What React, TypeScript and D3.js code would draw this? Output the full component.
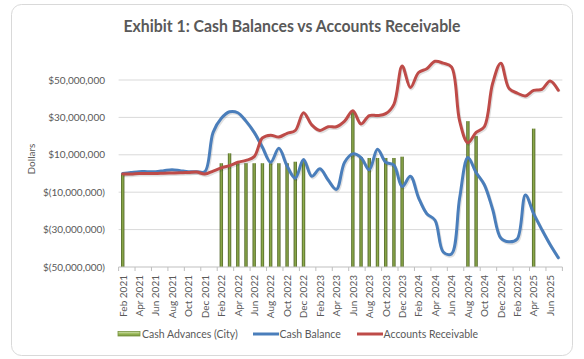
import React from "react";
import * as d3 from "d3";

// monthly categories, Feb 2021 .. Jul 2025
const months = [
  "Feb 2021", "Mar 2021", "Apr 2021", "May 2021", "Jun 2021", "Jul 2021", "Aug 2021", "Sep 2021", "Oct 2021", "Nov 2021", "Dec 2021",
  "Jan 2022", "Feb 2022", "Mar 2022", "Apr 2022", "May 2022", "Jun 2022", "Jul 2022", "Aug 2022", "Sep 2022", "Oct 2022", "Nov 2022", "Dec 2022",
  "Jan 2023", "Feb 2023", "Mar 2023", "Apr 2023", "May 2023", "Jun 2023", "Jul 2023", "Aug 2023", "Sep 2023", "Oct 2023", "Nov 2023", "Dec 2023",
  "Jan 2024", "Feb 2024", "Mar 2024", "Apr 2024", "May 2024", "Jun 2024", "Jul 2024", "Aug 2024", "Sep 2024", "Oct 2024", "Nov 2024", "Dec 2024",
  "Jan 2025", "Feb 2025", "Mar 2025", "Apr 2025", "May 2025", "Jun 2025", "Jul 2025",
];

// values in millions of dollars (null = no advance that month)
const cashAdvances = [
  0, null, null, null, null, null, null, null, null, null, null,
  null, 5.5, 10.8, 5.5, 5.5, 5.5, 5.5, 5.5, 5.5, 5.5, 6.3, 7.2,
  null, null, null, null, null, 33.5, 8.8, 8.3, 8.3, 8.3, 8.3, 9,
  null, null, null, null, null, null, null, 28, 20, null, null, null,
  null, null, null, 24, null, null, null,
];

const cashBalance = [
  0, 0.5, 1, 1, 1, 1.5, 2, 1.5, 1, 1, 1,
  22, 29.5, 33, 32.5, 28, 22, 14, 6, 13.5, 4, -2.5, 7.5,
  -1.5, 2.5, -3.5, -8.5, 6, 10.5, 8.5, 2, 13, 6, 4.5, -7,
  -1.5, -13, -21.5, -25, -42, -43, -13, 8.5, 0.5, -6, -19, -34.5,
  -36.5, -35, -11.5, -21.5, -30, -38, -45,
];

const accountsReceivable = [
  -0.3, -0.3, 0, 0, 0, 0.2, 0.3, 0.4, 0.6, 0.8, -0.3,
  1.3, 3, 4.2, 6, 7, 9, 19, 20.5, 19.5, 21.5, 23, 32.5,
  26, 23, 25, 25, 28, 33.5, 26.5, 31, 31, 32, 37, 57.5,
  46, 54, 56, 60, 59, 57, 28, 16.5, 22, 25, 48, 59,
  45.5, 43, 41.5, 44.5, 45, 49.5, 44.5,
];

const yTicks = [50, 30, 10, -10, -30, -50];

const fmt = (m: number) => {
  const s = d3.format(",")(Math.abs(m) * 1e6);
  return m < 0 ? `$(${s})` : `$${s}`;
};

export default function App() {
  const W = 584;
  const H = 359;
  const font = "Lato, 'Open Sans', sans-serif";

  const x = d3
    .scaleBand<number>()
    .domain(months.map((_, i) => i))
    .range([118.6, 562.4]);
  const y = d3.scaleLinear().domain([-50, 50]).range([267, 80]);
  const cx = (i: number) => (x(i) as number) + x.bandwidth() / 2;

  const line = d3
    .line<number>()
    .x((_, i) => cx(i))
    .y((d) => y(d))
    .curve(d3.curveCatmullRom.alpha(0.5));

  const barW = 3.4;

  return (
    <div style={{ position: "absolute", left: 0, top: 0 }}>
      <svg width={W} height={H} style={{ display: "block", fontFamily: font }}>
        <defs>
          <linearGradient id="barGrad" x1="0" x2="1" y1="0" y2="0">
            <stop offset="0" stopColor="#4f6228" />
            <stop offset="0.5" stopColor="#8fae4c" />
            <stop offset="1" stopColor="#4f6228" />
          </linearGradient>
          <linearGradient id="legGrad" x1="0" x2="0" y1="0" y2="1">
            <stop offset="0" stopColor="#d7e4bd" />
            <stop offset="0.5" stopColor="#9bbb59" />
            <stop offset="1" stopColor="#76923c" />
          </linearGradient>
        </defs>
        <rect x={0} y={0} width={W} height={H} fill="#fff" />
        <rect x={11.5} y={4.5} width={561} height={351} rx={10} fill="#fff" stroke="#d9d9d9" />

        <text
          x={292}
          y={32}
          textAnchor="middle"
          fontSize={17}
          fontWeight="bold"
          fill="#595959"
          textLength={337}
          lengthAdjust="spacingAndGlyphs"
        >
          Exhibit 1: Cash Balances vs Accounts Receivable
        </text>

        {/* grid */}
        {yTicks.map((t) => (
          <g key={t}>
            {t !== -50 && (
              <line x1={118.6} x2={562.4} y1={y(t)} y2={y(t)} stroke="#d9d9d9" strokeWidth={1} />
            )}
            <text x={105} y={y(t)} dy="0.35em" textAnchor="end" fontSize={10} fill="#595959">
              {fmt(t)}
            </text>
          </g>
        ))}

        <text
          transform={`translate(35,159) rotate(-90)`}
          textAnchor="middle"
          fontSize={10}
          fill="#595959"
        >
          Dollars
        </text>

        {/* bars */}
        {cashAdvances.map((v, i) =>
          v === null ? null : (
            <rect
              key={i}
              x={cx(i) - barW / 2}
              y={y(v)}
              width={barW}
              height={y(-50) - y(v)}
              fill="url(#barGrad)"
            />
          )
        )}

        {/* x axis */}
        <line x1={118.6} x2={562.4} y1={y(-50)} y2={y(-50)} stroke="#bfbfbf" />
        {months.map((m, i) =>
          i % 2 === 0 ? (
            <g key={m}>
              <line x1={x(i)} x2={x(i)} y1={y(-50)} y2={y(-50) + 4} stroke="#bfbfbf" />
              <text
                transform={`translate(${cx(i) + 3.8},275) rotate(-90)`}
                textAnchor="end"
                fontSize={10}
                fill="#595959"
              >
                {m}
              </text>
            </g>
          ) : null
        )}
        <line x1={562.4} x2={562.4} y1={y(-50)} y2={y(-50) + 4} stroke="#bfbfbf" />

        {/* lines with soft shadow */}
        <path d={line(cashBalance) ?? ""} transform="translate(1,1.5)" fill="none" stroke="#000" strokeOpacity={0.12} strokeWidth={3.2} />
        <path d={line(accountsReceivable) ?? ""} transform="translate(1,1.5)" fill="none" stroke="#000" strokeOpacity={0.12} strokeWidth={3.2} />
        <path d={line(cashBalance) ?? ""} fill="none" stroke="#4a7ebb" strokeWidth={3} strokeLinejoin="round" strokeLinecap="round" />
        <path d={line(accountsReceivable) ?? ""} fill="none" stroke="#be4b48" strokeWidth={3} strokeLinejoin="round" strokeLinecap="round" />

        {/* legend */}
        <rect x={118} y={331.5} width={22} height={4.5} fill="url(#legGrad)" stroke="#76923c" strokeWidth={0.8} />
        <text x={142} y={337.5} fontSize={10.5} fill="#595959">Cash Advances (City)</text>
        <line x1={253} x2={279} y1={334} y2={334} stroke="#4a7ebb" strokeWidth={3} />
        <text x={279.5} y={337.5} fontSize={10.5} fill="#595959">Cash Balance</text>
        <line x1={357} x2={383} y1={334} y2={334} stroke="#be4b48" strokeWidth={3} />
        <text x={383.5} y={337.5} fontSize={10.5} fill="#595959">Accounts Receivable</text>
      </svg>
    </div>
  );
}
